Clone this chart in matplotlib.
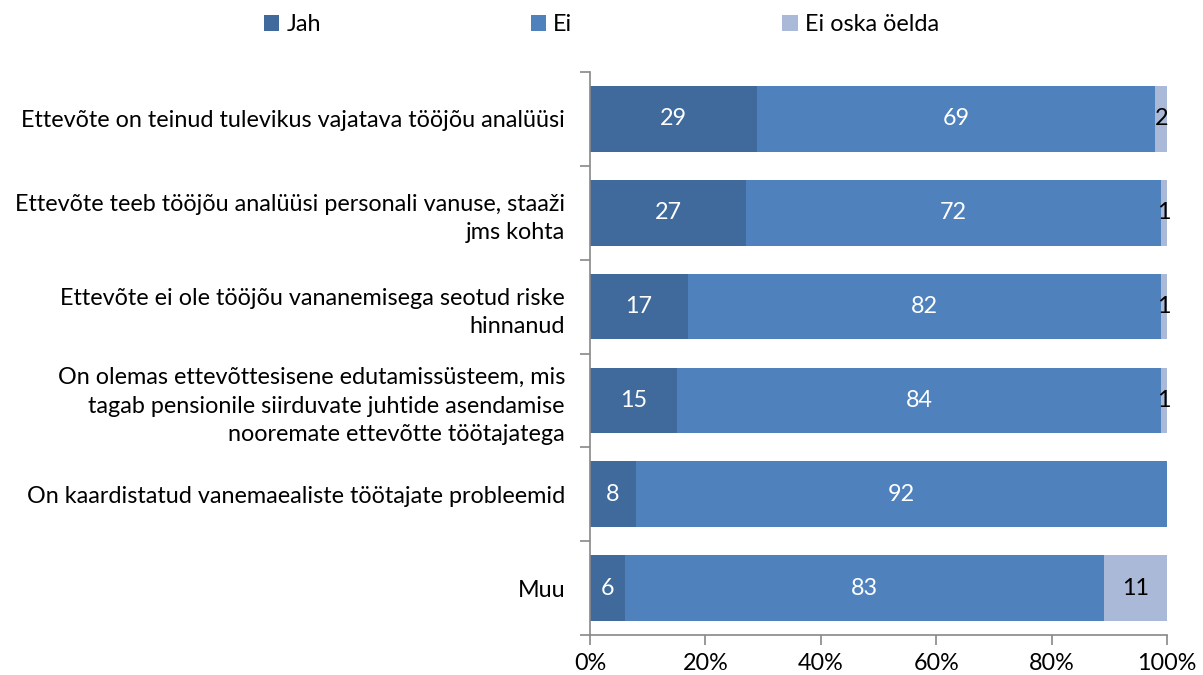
import matplotlib.pyplot as plt
import numpy as np

plt.rcParams['font.family'] = ['Lato', 'DejaVu Sans']

categories = [
    "Ettevõte on teinud tulevikus vajatava tööjõu analüüsi",
    "Ettevõte teeb tööjõu analüüsi personali vanuse, staaži\njms kohta",
    "Ettevõte ei ole tööjõu vananemisega seotud riske\nhinnanud",
    "On olemas ettevõttesisene edutamissüsteem, mis\ntagab pensionile siirduvate juhtide asendamise\nnooremate ettevõtte töötajatega",
    "On kaardistatud vanemaealiste töötajate probleemid",
    "Muu",
]
jah = [29, 27, 17, 15, 8, 6]
ei = [69, 72, 82, 84, 92, 83]
ei_tea = [2, 1, 1, 1, 0, 11]

series = [("Jah", jah, "#3F6A9B", "white"),
          ("Ei", ei, "#4F81BD", "white"),
          ("Ei oska öelda", ei_tea, "#AAB9D7", "black")]

fs = 16.8

fig = plt.figure(figsize=(12.03, 6.75), dpi=100)
ax = fig.add_axes([590/1203, 1-635/675, 577/1203, 563/675])

y = np.arange(len(categories))
left = np.zeros(len(categories))
for name, vals, col, tcol in series:
    vals = np.array(vals, dtype=float)
    bars = ax.barh(y, vals, left=left, height=0.7, color=col, label=name)
    for b, v in zip(bars, vals):
        if v > 0:
            ax.text(b.get_x() + b.get_width()/2, b.get_y() + b.get_height()/2,
                    "%d" % v, ha='center', va='center', color=tcol, fontsize=fs)
    left += vals

ax.set_xlim(0, 100)
ax.set_ylim(len(categories) - 0.5, -0.5)
ax.set_yticks(y)
ax.set_yticklabels(categories, fontsize=fs, ha='right', linespacing=1.45)
ax.set_yticks(np.arange(-0.5, len(categories)), minor=True)
ax.tick_params(axis='y', which='major', length=0, pad=18)
ax.tick_params(axis='y', which='minor', length=7, color='#888888', width=1.2)
ax.set_xticks(range(0, 101, 20))
ax.set_xticklabels(["%d%%" % v for v in range(0, 101, 20)], fontsize=fs)
ax.tick_params(axis='x', length=7, color='#888888', width=1.2, pad=6)

for s in ['top', 'right']:
    ax.spines[s].set_visible(False)
for s in ['left', 'bottom']:
    ax.spines[s].set_color('#888888')
    ax.spines[s].set_linewidth(1.2)

handles, labels = ax.get_legend_handles_labels()
fig.legend(handles, labels, loc='upper center', bbox_to_anchor=(0.5, 1.01),
           ncol=3, frameon=False, fontsize=fs, handlelength=0.65,
           handleheight=0.65, handletextpad=0.3, columnspacing=9)

fig.savefig("out.png", dpi=100)
